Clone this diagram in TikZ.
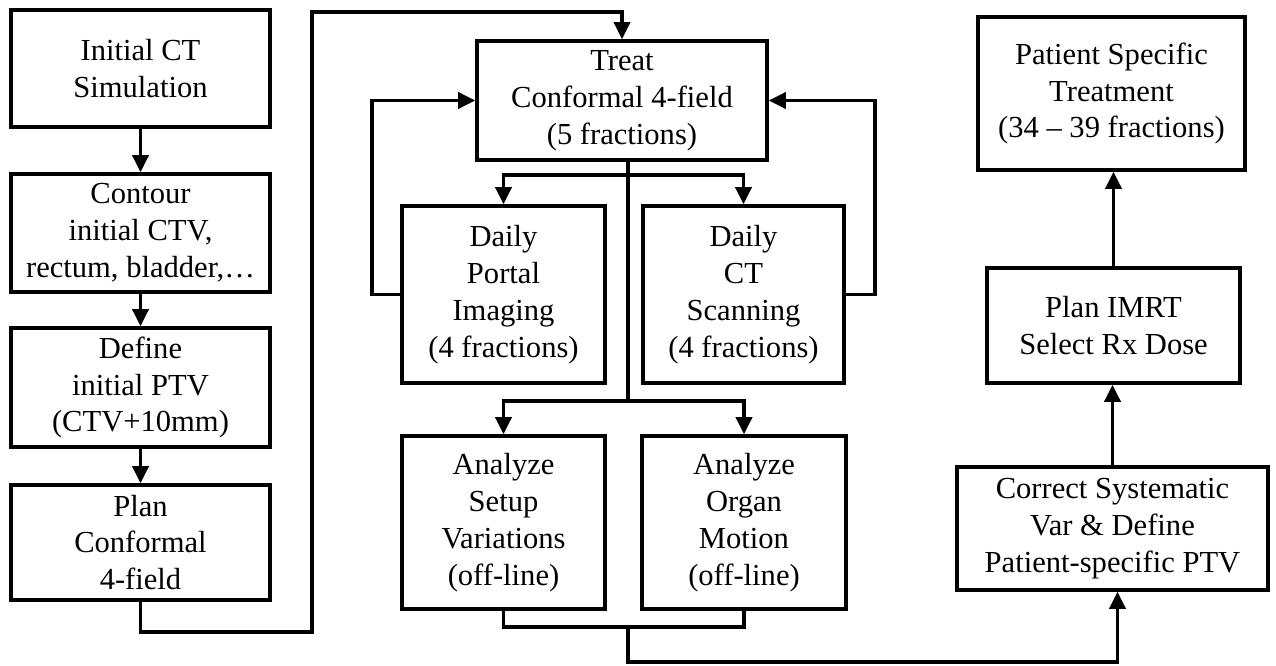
\documentclass[tikz,border=0pt]{standalone}
\usepackage{fontspec}
\setmainfont{Liberation Serif}
\usetikzlibrary{shapes,arrows,arrows.meta}
\tikzstyle{block} = [rectangle, draw, align=center, inner sep=0pt,
    font=\fontsize{17.4}{21}\selectfont]
\tikzstyle{line} = [draw, -{Triangle[length=0.34cm,width=0.32cm]}]
\tikzstyle{wire} = [draw]
\tikzset{boxsize/.style 2 args={minimum width=#1*0.02cm, minimum height=#2*0.02cm}}

\begin{document}
\begin{tikzpicture}[x=0.02cm, y=-0.02cm, line width=2pt]
\useasboundingbox (0,0) rectangle (1276,666);

% left column
\node [block, boxsize={259}{117}] at (140.5,68.5) (ctsim) {Initial CT\\Simulation};
\node [block, boxsize={259}{118}] at (140.5,233) (contour) {Contour\\initial CTV,\\rectum, bladder,\ldots};
\node [block, boxsize={259}{119}] at (140.5,387.5) (define) {Define\\initial PTV\\(CTV+10mm)};
\node [block, boxsize={259}{115}] at (140.5,542.5) (plan) {Plan\\Conformal\\4-field};

% middle
\node [block, boxsize={290}{119}] at (622,100.5) (treat) {Treat\\Conformal 4-field\\(5 fractions)};
\node [block, boxsize={203}{177}] at (503.5,294.5) (portal) {Daily\\Portal\\Imaging\\(4 fractions)};
\node [block, boxsize={201}{177}] at (743.5,294.5) (ctscan) {Daily\\CT\\Scanning\\(4 fractions)};
\node [block, boxsize={203}{173}] at (503.5,522.5) (setup) {Analyze\\Setup\\Variations\\(off-line)};
\node [block, boxsize={204}{173}] at (744,522.5) (organ) {Analyze\\Organ\\Motion\\(off-line)};

% right column
\node [block, boxsize={267}{153}] at (1111.5,93.5) (pst) {Patient Specific\\Treatment\\(34 -- 39 fractions)};
\node [block, boxsize={253}{115}] at (1113.5,325.5) (imrt) {Plan IMRT\\Select Rx Dose};
\node [block, boxsize={311}{123}] at (1112.5,528.5) (correct) {Correct Systematic\\Var \& Define\\Patient-specific PTV};

\coordinate (planturn) at (312,632);
\coordinate (topturn) at (312,12);
\coordinate (split1) at (628,175);
\coordinate (split2) at (628,401);
\coordinate (fbL) at (372,200);
\coordinate (fbR) at (875,200);
\coordinate (merge) at (628,627);
\coordinate (bottom) at (628,662);

\draw [line] (ctsim.south) -- (contour.north);
\draw [line] (contour.south) -- (define.north);
\draw [line] (define.south) -- (plan.north);
\draw [line] (plan.south) |- (planturn) -- (topturn) -| (treat.north);

\draw [wire] (split1 |- treat.south) -- (split2);
\draw [line] (split1) -| (portal.north);
\draw [line] (split1) -| (ctscan.north);
\draw [line] (split2) -| (setup.north);
\draw [line] (split2) -| (organ.north);

\draw [line] (portal.west) -| (fbL) |- (treat.west);
\draw [line] (ctscan.east) -| (fbR) |- (treat.east);

\draw [wire] (setup.south) |- (merge) -| (organ.south);
\draw [line] (merge) -- (bottom) -| ([xshift=0.1cm] correct.south);
\draw [line] (correct.north) -- (correct.north |- imrt.south);
\draw [line] (imrt.north) -- (imrt.north |- pst.south);
\end{tikzpicture}
\end{document}
